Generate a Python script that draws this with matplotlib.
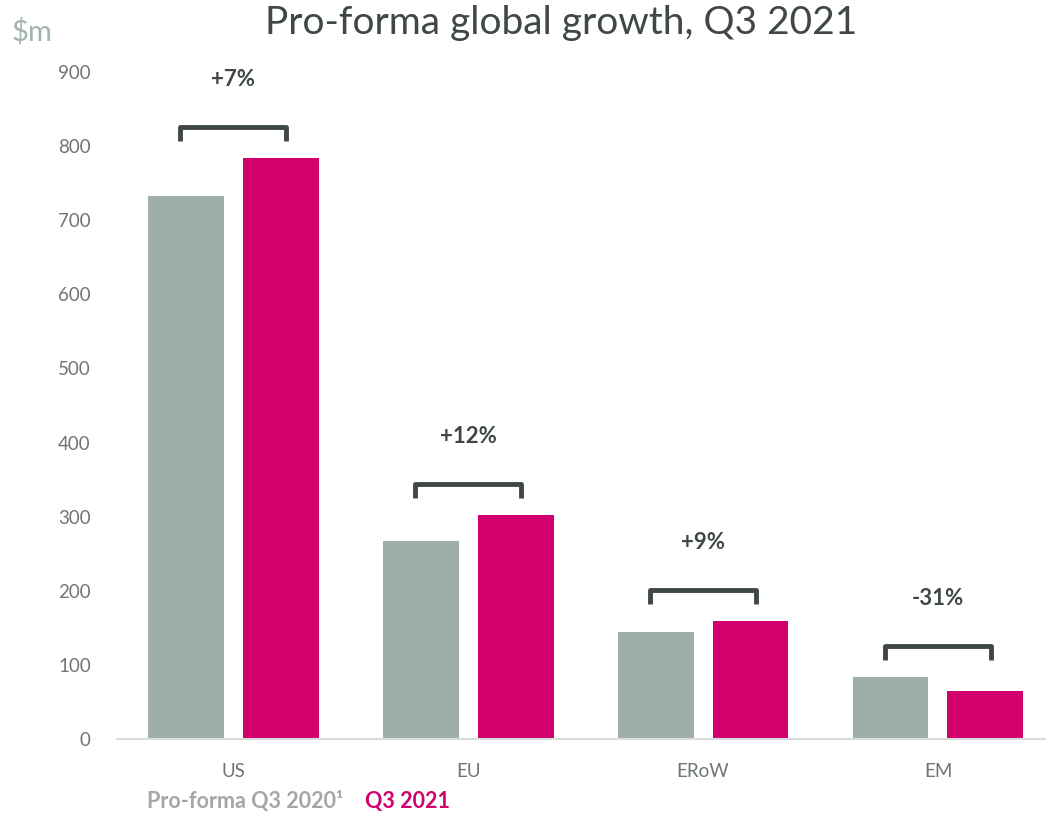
import numpy as np
import matplotlib
matplotlib.use("Agg")
import matplotlib.pyplot as plt

plt.rcParams['font.family'] = ['Lato', 'DejaVu Sans']

regions = ['US', 'EU', 'ERoW', 'EM']
q3_2020 = [733, 267, 145, 83]
q3_2021 = [784, 302, 159, 65]
growth = ['+7%', '+12%', '+9%', '-31%']
y_ticks = [0, 100, 200, 300, 400, 500, 600, 700, 800, 900]

GRAY = '#9EAFAA'
PINK = '#D1006C'
DARK = '#3F4747'

fig = plt.figure(figsize=(10.46, 8.21), dpi=100)
ax = fig.add_axes([0.112, 0.0999, 0.888, 0.8124])

x = np.arange(len(regions))
w = 0.323
off = 0.202
ax.bar(x - off, q3_2020, width=w, color=GRAY, zorder=2)
ax.bar(x + off, q3_2021, width=w, color=PINK, zorder=2)

# growth brackets + labels
for i in range(len(regions)):
    top = max(q3_2020[i], q3_2021[i])
    yb = top + 42
    xl, xr = x[i] - 0.225, x[i] + 0.225
    ax.plot([xl, xl, xr, xr], [yb - 19, yb, yb, yb - 19], color=DARK, lw=3.5,
            solid_joinstyle='round', solid_capstyle='butt', zorder=3)
    ax.text(x[i], yb + 64, growth[i], ha='center', va='center', fontsize=16,
            fontweight='bold', color=DARK)

ax.set_xlim(-0.494, 3.46)
ax.set_ylim(0, 900)
ax.set_yticks(y_ticks)
ax.set_xticks(x)
ax.set_xticklabels(regions)
ax.tick_params(axis='both', length=0, labelsize=13.5, colors='#6F7575')
ax.tick_params(axis='y', pad=19)
ax.tick_params(axis='x', pad=17)
for s in ['top', 'right', 'left']:
    ax.spines[s].set_visible(False)
ax.spines['bottom'].set_color('#D9DCDC')
ax.spines['bottom'].set_linewidth(1.5)

fig.text(0.536, 0.958, 'Pro-forma global growth, Q3 2021', ha='center', va='baseline',
         fontsize=28, color='#3F4747')
fig.text(0.011, 0.961, '$m', ha='left', va='center', fontsize=21, color='#A3B3AE')

fig.text(0.141, 0.011, 'Pro-forma Q3 2020¹', ha='left', va='bottom', fontsize=15.5,
         fontweight='bold', color='#A6A6A6')
fig.text(0.349, 0.011, 'Q3 2021', ha='left', va='bottom', fontsize=15.5,
         fontweight='bold', color=PINK)

fig.savefig('out.png', dpi=100)
